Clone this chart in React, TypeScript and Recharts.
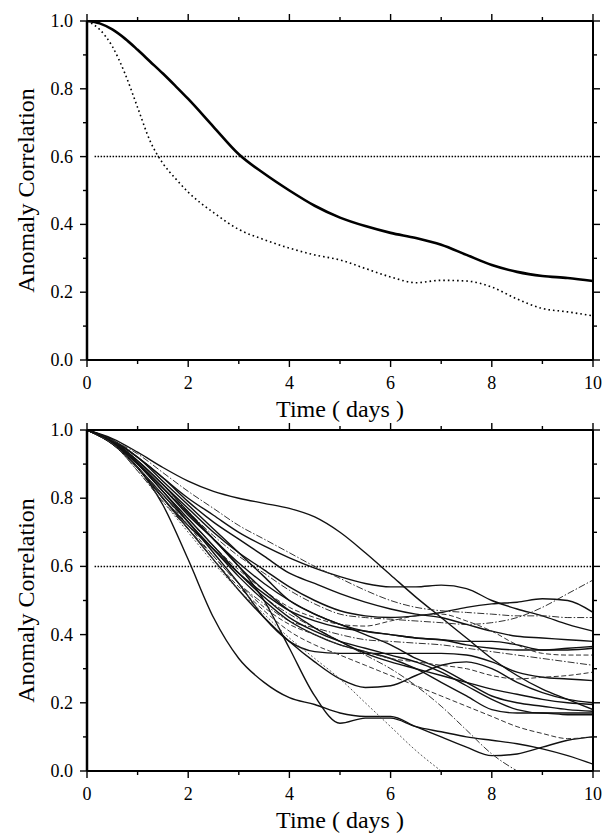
import React from 'react';
import { LineChart, Line, XAxis, YAxis, ReferenceLine } from 'recharts';

const FONT = '"Liberation Serif", "Times New Roman", Times, serif';

// ---------- axes / ticks ----------
const xTicks = [0, 1, 2, 3, 4, 5, 6, 7, 8, 9, 10];
const yTicks = [0, 0.1, 0.2, 0.3, 0.4, 0.5, 0.6, 0.7, 0.8, 0.9, 1.0];
const xTitle = 'Time ( days )';
const yTitle = 'Anomaly Correlation';
const threshold = 0.6;

// ---------- top panel ----------
const topDays = [0, 0.25, 0.5, 0.75, 1, 1.25, 1.5, 1.75, 2, 2.5, 3, 3.5, 4, 4.5, 5, 5.5, 6, 6.5, 7, 7.5, 8, 8.5, 9, 9.5, 10];
const meanSkill = [1.0, 0.993, 0.975, 0.948, 0.915, 0.88, 0.845, 0.808, 0.77, 0.688, 0.607, 0.55, 0.5, 0.455, 0.42, 0.395, 0.375, 0.36, 0.34, 0.31, 0.28, 0.26, 0.248, 0.242, 0.233];
const persistSkill = [1.0, 0.975, 0.925, 0.845, 0.745, 0.645, 0.58, 0.535, 0.495, 0.435, 0.385, 0.355, 0.33, 0.31, 0.295, 0.27, 0.245, 0.228, 0.235, 0.233, 0.215, 0.18, 0.152, 0.142, 0.13];

// ---------- bottom panel (individual cases) ----------
const caseDays = [0, 0.5, 1, 1.5, 2, 2.5, 3, 3.5, 4, 4.5, 5, 5.5, 6, 6.5, 7, 7.5, 8, 8.5, 9, 9.5, 10];
const case01 = [1, 0.975, 0.935, 0.89, 0.85, 0.82, 0.8, 0.785, 0.77, 0.745, 0.7, 0.64, 0.575, 0.51, 0.45, 0.39, 0.33, 0.28, 0.24, 0.21, 0.18];
const case02 = [1, 0.97, 0.92, 0.86, 0.8, 0.75, 0.7, 0.66, 0.625, 0.595, 0.57, 0.55, 0.54, 0.54, 0.545, 0.535, 0.5, 0.475, 0.455, 0.43, 0.41];
const case03 = [1, 0.965, 0.9, 0.83, 0.76, 0.69, 0.63, 0.58, 0.53, 0.49, 0.46, 0.45, 0.445, 0.44, 0.435, 0.43, 0.435, 0.45, 0.48, 0.52, 0.56];
const case04 = [1, 0.97, 0.91, 0.84, 0.77, 0.7, 0.64, 0.59, 0.54, 0.5, 0.47, 0.455, 0.45, 0.455, 0.465, 0.48, 0.49, 0.495, 0.505, 0.5, 0.465];
const case05 = [1, 0.97, 0.92, 0.86, 0.79, 0.73, 0.68, 0.63, 0.58, 0.55, 0.52, 0.495, 0.475, 0.46, 0.45, 0.43, 0.41, 0.395, 0.39, 0.385, 0.38];
const case06 = [1, 0.96, 0.89, 0.8, 0.72, 0.65, 0.58, 0.52, 0.47, 0.44, 0.42, 0.41, 0.4, 0.39, 0.385, 0.37, 0.36, 0.355, 0.355, 0.36, 0.365];
const case07 = [1, 0.965, 0.9, 0.82, 0.74, 0.66, 0.59, 0.53, 0.48, 0.45, 0.43, 0.425, 0.44, 0.455, 0.46, 0.44, 0.41, 0.37, 0.345, 0.34, 0.34];
const case08 = [1, 0.96, 0.88, 0.79, 0.71, 0.63, 0.55, 0.49, 0.44, 0.42, 0.4, 0.385, 0.38, 0.375, 0.37, 0.36, 0.35, 0.34, 0.33, 0.32, 0.31];
const case09 = [1, 0.965, 0.9, 0.82, 0.73, 0.64, 0.55, 0.45, 0.38, 0.35, 0.345, 0.345, 0.345, 0.345, 0.345, 0.34, 0.32, 0.29, 0.275, 0.27, 0.265];
const case10 = [1, 0.96, 0.89, 0.8, 0.71, 0.62, 0.53, 0.45, 0.38, 0.32, 0.27, 0.245, 0.25, 0.28, 0.31, 0.32, 0.3, 0.26, 0.23, 0.21, 0.2];
const case11 = [1, 0.965, 0.9, 0.83, 0.75, 0.68, 0.61, 0.55, 0.5, 0.46, 0.43, 0.4, 0.37, 0.33, 0.3, 0.26, 0.22, 0.2, 0.19, 0.18, 0.175];
const case12 = [1, 0.96, 0.89, 0.81, 0.73, 0.65, 0.57, 0.5, 0.44, 0.4, 0.37, 0.35, 0.33, 0.3, 0.26, 0.22, 0.18, 0.17, 0.17, 0.165, 0.165];
const case13 = [1, 0.96, 0.89, 0.78, 0.62, 0.45, 0.33, 0.26, 0.215, 0.195, 0.17, 0.16, 0.16, 0.13, 0.1, 0.07, 0.045, 0.05, 0.07, 0.09, 0.1];
const case14 = [1, 0.965, 0.91, 0.84, 0.76, 0.68, 0.6, 0.5, 0.36, 0.22, 0.14, 0.155, 0.155, 0.13, 0.115, 0.1, 0.09, 0.08, 0.065, 0.045, 0.02];
const case15 = [1, 0.96, 0.88, 0.79, 0.7, 0.61, 0.53, 0.46, 0.39, 0.33, 0.27, 0.2, 0.13, 0.06, 0.0, null, null, null, null, null, null];
const case16 = [1, 0.965, 0.9, 0.82, 0.74, 0.66, 0.58, 0.51, 0.46, 0.42, 0.38, 0.34, 0.3, 0.25, 0.19, 0.12, 0.05, 0.0, null, null, null];
const case17 = [1, 0.97, 0.92, 0.85, 0.78, 0.71, 0.64, 0.57, 0.5, 0.46, 0.43, 0.41, 0.4, 0.39, 0.385, 0.38, 0.38, 0.37, 0.355, 0.355, 0.36];
const case18 = [1, 0.97, 0.93, 0.875, 0.82, 0.77, 0.72, 0.68, 0.64, 0.6, 0.565, 0.53, 0.5, 0.48, 0.47, 0.465, 0.46, 0.455, 0.455, 0.45, 0.45];
const case19 = [1, 0.96, 0.89, 0.81, 0.72, 0.63, 0.55, 0.48, 0.43, 0.4, 0.37, 0.35, 0.33, 0.32, 0.31, 0.3, 0.28, 0.27, 0.275, 0.28, 0.29];
const case20 = [1, 0.965, 0.905, 0.83, 0.755, 0.68, 0.6, 0.53, 0.47, 0.42, 0.38, 0.345, 0.32, 0.3, 0.28, 0.26, 0.24, 0.225, 0.21, 0.2, 0.195];
const case21 = [1, 0.96, 0.89, 0.8, 0.71, 0.62, 0.54, 0.47, 0.41, 0.37, 0.34, 0.31, 0.28, 0.25, 0.22, 0.19, 0.16, 0.13, 0.11, 0.095, 0.1];
const case22 = [1, 0.965, 0.9, 0.82, 0.74, 0.66, 0.58, 0.51, 0.45, 0.41, 0.38, 0.36, 0.34, 0.32, 0.29, 0.25, 0.21, 0.18, 0.17, 0.17, 0.17];

const caseSeries = [case01, case02, case03, case04, case05, case06, case07, case08, case09, case10, case11,
  case12, case13, case14, case15, case16, case17, case18, case19, case20, case21, case22];

// line styles (kept apart from data)
const SOLID = { stroke: '#111', strokeWidth: 1.4, dash: undefined as string | undefined };
const DASHDOT = { stroke: '#333', strokeWidth: 1.0, dash: '7 2 1.5 2' };
const DASHED = { stroke: '#333', strokeWidth: 1.0, dash: '5 2.5' };
const DOTTY = { stroke: '#444', strokeWidth: 0.9, dash: '2 2' };
const caseStyles = [SOLID, SOLID, DASHDOT, SOLID, SOLID, SOLID, DASHED, DASHDOT, SOLID, SOLID, SOLID,
  SOLID, SOLID, SOLID, DOTTY, DASHDOT, SOLID, DASHDOT, DASHED, SOLID, DASHED, SOLID];

const toPoints = (xs: number[], ys: (number | null)[]) => xs.map((x, i) => ({ x, y: ys[i] }));

// ---------- tick renderers ----------
const isMajorX = (v: number) => Math.round(v) % 2 === 0;
const isMajorY = (v: number) => Math.round(v * 10) % 2 === 0;

const BottomTick = (p: any) => {
  const { x, y, payload } = p;
  const v = payload.value;
  const major = isMajorX(v);
  return (
    <g>
      <line x1={x} x2={x} y1={y} y2={y + (major ? 7 : 4)} stroke="#000" strokeWidth={1.4} />
      {major && (
        <text x={x} y={y + 29} textAnchor="middle" fontFamily={FONT} fontSize={18} fill="#000">{v}</text>
      )}
    </g>
  );
};
const TopTick = (p: any) => {
  const { x, y, payload } = p;
  const major = isMajorX(payload.value);
  return <line x1={x} x2={x} y1={y} y2={y - (major ? 7 : 4)} stroke="#000" strokeWidth={1.4} />;
};
const LeftTick = (p: any) => {
  const { x, y, payload } = p;
  const v = payload.value;
  const major = isMajorY(v);
  return (
    <g>
      <line x1={x} x2={x - (major ? 7 : 4)} y1={y} y2={y} stroke="#000" strokeWidth={1.4} />
      {major && (
        <text x={x - 14} y={y + 6} textAnchor="end" fontFamily={FONT} fontSize={18} fill="#000">{v.toFixed(1)}</text>
      )}
    </g>
  );
};
const RightTick = (p: any) => {
  const { x, y, payload } = p;
  const major = isMajorY(payload.value);
  return <line x1={x} x2={x + (major ? 7 : 4)} y1={y} y2={y} stroke="#000" strokeWidth={1.4} />;
};

const XTitle = (p: any) => {
  const vb = p.viewBox || { x: 87, y: 360, width: 506, height: 65 };
  const cx = vb.x + vb.width / 2;
  return (
    <text x={cx} y={vb.y + 57} textAnchor="middle" fontFamily={FONT} fontSize={24} fill="#000">{xTitle}</text>
  );
};
const YTitle = (p: any) => {
  const vb = p.viewBox || { x: 0, y: 21, width: 87, height: 340 };
  const cx = vb.x + 26;
  const cy = vb.y + vb.height / 2;
  return (
    <text x={cx} y={cy} transform={`rotate(-90 ${cx} ${cy})`} textAnchor="middle" dominantBaseline="central"
      fontFamily={FONT} fontSize={24} fill="#000">{yTitle}</text>
  );
};

const W = 615;
const H = 425;

function Frame({ top, bottomH, children }: { top: number; bottomH: number; children: React.ReactNode }) {
  return (
    <LineChart width={W} height={H} margin={{ top, right: 21, bottom: 0, left: 0 }}>
      <XAxis xAxisId="b" type="number" dataKey="x" domain={[0, 10]} allowDataOverflow ticks={xTicks} interval={0}
        tickSize={0} tickMargin={0} tick={BottomTick} tickLine={false} height={bottomH}
        axisLine={{ stroke: '#000', strokeWidth: 2 }} label={{ content: XTitle }} />
      <XAxis xAxisId="t" orientation="top" type="number" dataKey="x" domain={[0, 10]} allowDataOverflow ticks={xTicks}
        interval={0} tickSize={0} tickMargin={0} tick={TopTick} tickLine={false} height={1}
        axisLine={{ stroke: '#000', strokeWidth: 2 }} />
      <YAxis yAxisId="l" type="number" domain={[0, 1]} allowDataOverflow ticks={yTicks} interval={0}
        tickSize={0} tickMargin={0} tick={LeftTick} tickLine={false} width={87}
        axisLine={{ stroke: '#000', strokeWidth: 2.5 }} label={{ content: YTitle }} />
      <YAxis yAxisId="r" orientation="right" type="number" domain={[0, 1]} allowDataOverflow ticks={yTicks} interval={0}
        tickSize={0} tickMargin={0} tick={RightTick} tickLine={false} width={1}
        axisLine={{ stroke: '#000', strokeWidth: 2 }} />
      <ReferenceLine xAxisId="b" yAxisId="l" segment={[{ x: 0.15, y: threshold }, { x: 10, y: threshold }]}
        stroke="#000" strokeWidth={1.5} strokeDasharray="1.5 1.5" />
      {children}
    </LineChart>
  );
}

export default function App() {
  const meanData = toPoints(topDays, meanSkill);
  const persistData = toPoints(topDays, persistSkill);
  return (
    <div style={{ position: 'absolute', left: 0, top: 0, width: W, height: 835, background: '#fff' }}>
      <div style={{ position: 'absolute', left: 0, top: 0 }}>
        <Frame top={20} bottomH={65}>
          <Line xAxisId="b" yAxisId="l" data={persistData} dataKey="y" type="monotone" stroke="#000"
            strokeWidth={1.6} strokeDasharray="1.6 3" dot={false} activeDot={false} isAnimationActive={false} />
          <Line xAxisId="b" yAxisId="l" data={meanData} dataKey="y" type="monotone" stroke="#000"
            strokeWidth={2.6} dot={false} activeDot={false} isAnimationActive={false} />
        </Frame>
      </div>
      <div style={{ position: 'absolute', left: 0, top: 410 }}>
        <Frame top={19} bottomH={64}>
          {caseSeries.map((vals, i) => {
            const st = caseStyles[i];
            return (
              <Line key={i} xAxisId="b" yAxisId="l" data={toPoints(caseDays, vals)} dataKey="y" type="monotone"
                stroke={st.stroke} strokeWidth={st.strokeWidth} strokeDasharray={st.dash}
                dot={false} activeDot={false} isAnimationActive={false} connectNulls={false} />
            );
          })}
        </Frame>
      </div>
    </div>
  );
}
